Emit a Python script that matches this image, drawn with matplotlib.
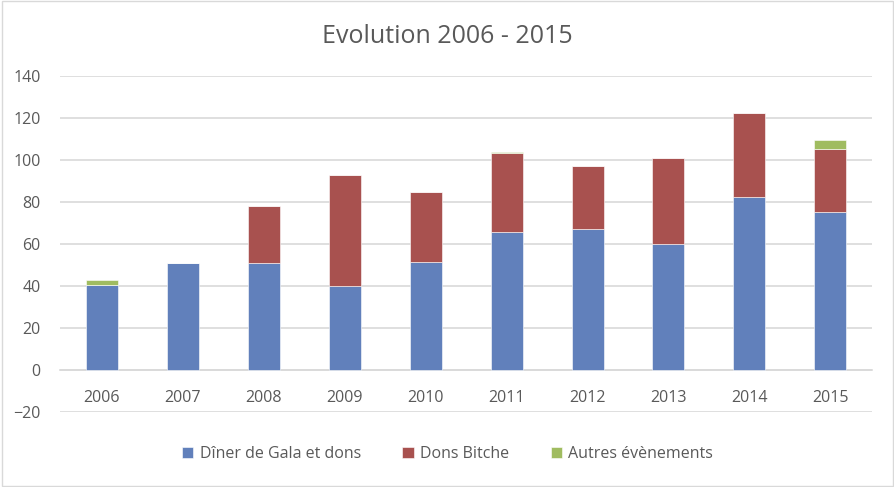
import matplotlib.pyplot as plt
import numpy as np

years = ['2006', '2007', '2008', '2009', '2010', '2011', '2012', '2013', '2014', '2015']
diner_gala = [40.5, 51, 51, 40.3, 51.4, 66, 67.1, 60, 82.4, 75.3]
dons_bitche = [0, 0, 27, 52.8, 33.7, 37.3, 30, 40.9, 40, 30.3]
autres = [2.3, 0, 0, 0, 0, 0.6, 0.3, 0, 0, 4.2]

colors = ['#6180BB', '#A8514F', '#A0BC60']
text_color = '#595959'
grid_color = '#D9D9D9'

plt.rcParams['font.family'] = ['Open Sans', 'DejaVu Sans']

fig = plt.figure(figsize=(8.95, 4.87), dpi=100)
ax = fig.add_axes([0.067, 0.154, 0.907, 0.689])

x = np.arange(len(years))
w = 0.395
b1 = np.array(diner_gala)
b2 = b1 + np.array(dons_bitche)
ax.bar(x, diner_gala, w, color=colors[0], label='Dîner de Gala et dons', zorder=3,
       edgecolor='white', linewidth=0.4)
ax.bar(x, dons_bitche, w, bottom=b1, color=colors[1], label='Dons Bitche', zorder=3,
       edgecolor='white', linewidth=0.4)
ax.bar(x, autres, w, bottom=b2, color=colors[2], label='Autres évènements', zorder=3,
       edgecolor='white', linewidth=0.4)

ax.set_xlim(-0.515, len(years) - 0.49)
ax.set_ylim(-20, 140)
ax.set_yticks(range(-20, 141, 20))
ax.set_xticks(x)
ax.set_xticklabels(years)
ax.yaxis.grid(True, color=grid_color, linewidth=1.2, zorder=0)
ax.set_axisbelow(True)

for s in ['top', 'right', 'left']:
    ax.spines[s].set_visible(False)
ax.spines['bottom'].set_position(('data', 0))
ax.spines['bottom'].set_color(grid_color)
ax.spines['bottom'].set_linewidth(1.2)
ax.tick_params(axis='both', length=0, labelsize=11.5, labelcolor=text_color)
ax.tick_params(axis='x', pad=14)
ax.tick_params(axis='y', pad=14)

fig.text(0.5, 0.925, 'Evolution 2006 - 2015', ha='center', va='center',
         fontsize=18, color=text_color)

fig.legend(loc='center', bbox_to_anchor=(0.5, 0.067), ncol=3, frameon=False,
           fontsize=11.5, labelcolor=text_color, handlelength=0.7, handleheight=0.7,
           handletextpad=0.4, columnspacing=2.6)

fig.patches.append(plt.Rectangle((0.002, 0.003), 0.996, 0.994, transform=fig.transFigure,
                                 fill=False, edgecolor='#D9D9D9', linewidth=1))

fig.savefig('out.png', dpi=100)
